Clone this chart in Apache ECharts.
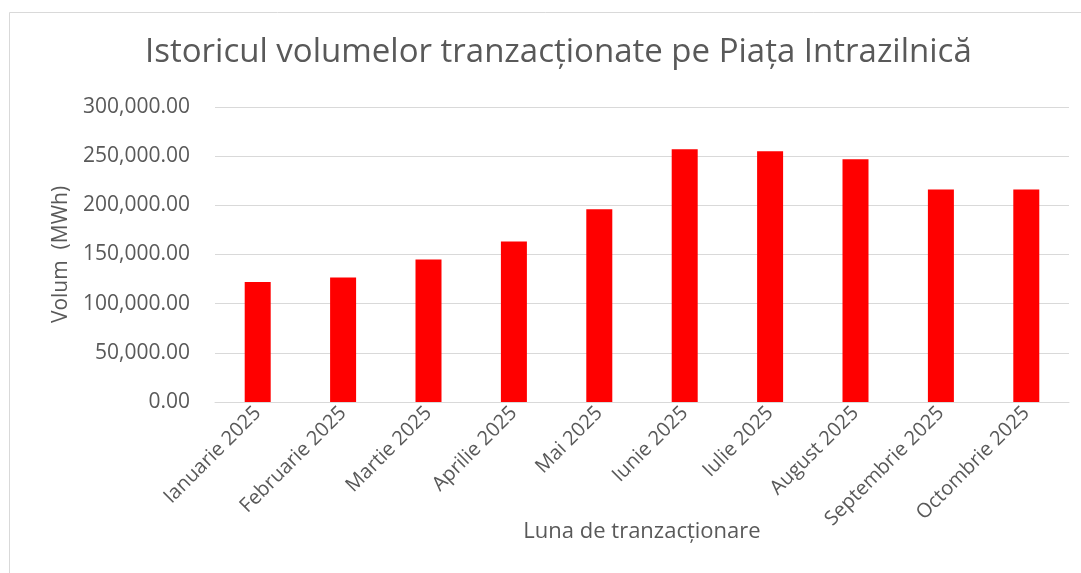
<!DOCTYPE html>
<html>
<head>
<meta charset="utf-8">
<script src="https://cdn.jsdelivr.net/npm/echarts@6/dist/echarts.min.js"></script>
<style>html,body{margin:0;padding:0;background:#fff}#c{width:1081px;height:573px}</style>
</head>
<body>
<div id="c"></div>
<script>
const titleText = 'Istoricul volumelor tranzacționate pe Piața Intrazilnică';
const categories = ['Ianuarie 2025','Februarie 2025','Martie 2025','Aprilie 2025','Mai 2025','Iunie 2025','Iulie 2025','August 2025','Septembrie 2025','Octombrie 2025'];
const volumes = [122000, 126600, 144900, 163200, 195900, 257000, 255000, 246800, 216200, 216200];
const yTicks = [0, 50000, 100000, 150000, 200000, 250000, 300000];
const xAxisName = 'Luna de tranzacționare';
const yAxisName = 'Volum  (MWh)';

const fontFam = '"Open Sans", "Noto Sans", sans-serif';
const chart = echarts.init(document.getElementById('c'), null, {renderer: 'canvas'});
chart.setOption({
  backgroundColor: '#fff',
  animation: false,
  graphic: [{type: 'rect', left: 7, top: 10, shape: {width: 1100, height: 600}, style: {fill: 'none', stroke: '#d9d9d9', lineWidth: 1}, silent: true}],
  title: {
    text: titleText, left: 140, top: 31,
    textStyle: {fontFamily: fontFam, fontSize: 33, fontWeight: 'normal', color: '#595959'}
  },
  grid: {left: 215, right: 12, top: 107, bottom: 171},
  xAxis: {
    type: 'category', data: categories,
    name: xAxisName, nameLocation: 'middle', nameGap: 119, nameMoveOverlap: false,
    nameTextStyle: {fontFamily: fontFam, fontSize: 22, color: '#595959'},
    axisLine: {lineStyle: {color: '#d9d9d9'}},
    axisTick: {show: false},
    axisLabel: {rotate: 45, margin: 8, fontFamily: fontFam, fontSize: 20, color: '#595959', interval: 0}
  },
  yAxis: {
    type: 'value', min: yTicks[0], max: yTicks[yTicks.length - 1], interval: yTicks[1] - yTicks[0],
    name: yAxisName, nameLocation: 'middle', nameGap: 143, nameMoveOverlap: false,
    nameTextStyle: {fontFamily: fontFam, fontSize: 21, color: '#595959'},
    axisLine: {show: false}, axisTick: {show: false},
    splitLine: {lineStyle: {color: '#d9d9d9'}},
    axisLabel: {
      margin: 25, fontFamily: fontFam, fontSize: 21, color: '#595959',
      formatter: v => v.toLocaleString('en-US', {minimumFractionDigits: 2, maximumFractionDigits: 2})
    }
  },
  series: [{
    type: 'bar', data: volumes, barWidth: 26,
    itemStyle: {color: '#ff0000'}
  }]
});
</script>
</body>
</html>
